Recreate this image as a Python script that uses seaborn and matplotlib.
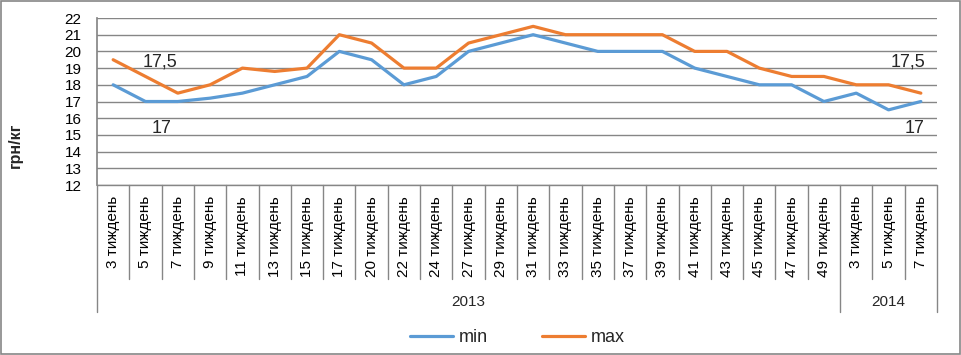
import numpy as np
import pandas as pd
import matplotlib
matplotlib.use("Agg")
import matplotlib.pyplot as plt
import matplotlib.transforms as mtransforms
from matplotlib.patches import Rectangle
import seaborn as sns

# weeks (2013 then 2014)
weeks_2013 = [3, 5, 7, 9, 11, 13, 15, 17, 20, 22, 24, 27, 29, 31, 33, 35, 37, 39, 41, 43, 45, 47, 49]
weeks_2014 = [3, 5, 7]
years = ["2013", "2014"]
week_labels = ["{} тиждень".format(w) for w in weeks_2013 + weeks_2014]

min_vals = [18, 17, 17, 17.2, 17.5, 18, 18.5, 20, 19.5, 18, 18.5, 20, 20.5, 21,
            20.5, 20, 20, 20, 19, 18.5, 18, 18, 17, 17.5, 16.5, 17]
max_vals = [19.5, 18.5, 17.5, 18, 19, 18.8, 19, 21, 20.5, 19, 19, 20.5, 21, 21.5,
            21, 21, 21, 21, 20, 20, 19, 18.5, 18.5, 18, 18, 17.5]
label_first = ["17,5", "17"]
label_last = ["17,5", "17"]

sns.set_theme(style="white")
plt.rcParams['font.family'] = ['Liberation Sans', 'DejaVu Sans']

n = len(week_labels)
pos = np.arange(n)
df = pd.DataFrame({'pos': np.concatenate([pos, pos]),
                   'value': min_vals + max_vals,
                   'series': ['min'] * n + ['max'] * n})

fig = plt.figure(figsize=(9.62, 3.55), dpi=100)
ax = fig.add_axes([97/962, 1-185/355, 840/962, 167/355])

colors = {'min': '#5B9BD5', 'max': '#ED7D31'}
sns.lineplot(data=df, x='pos', y='value', hue='series', palette=colors,
             linewidth=2.3, ax=ax, legend=False)

ax.set_xlim(-0.5, n - 0.5)
ax.set_ylim(12, 22)
ax.set_yticks(range(12, 23))
ax.yaxis.grid(True, color='#868686', linewidth=1)
ax.set_axisbelow(True)
ax.tick_params(axis='y', length=0, pad=11, labelsize=11, labelcolor='black')
ax.set_xticks(pos, week_labels, rotation=90, va='top', ha='center')
ax.tick_params(axis='x', length=0, pad=8, labelsize=11, labelcolor='black')
ax.set_xlabel('')
ax.set_ylabel('')
for s in ['top', 'right', 'bottom']:
    ax.spines[s].set_visible(False)
ax.spines['left'].set_color('#868686')
ax.spines['left'].set_bounds(12, 22)

# category separators below the axis
trans = mtransforms.blended_transform_factory(ax.transData, ax.transAxes)
ax.plot([-0.5, n - 0.5], [0, 0], color='#868686', lw=1, transform=trans, clip_on=False)
n13 = len(weeks_2013)
for i in range(n + 1):
    x = i - 0.5
    low = -0.76 if i in (0, n13, n) else -0.565
    ax.plot([x, x], [0, low], color='#868686', lw=1, transform=trans, clip_on=False)
ax.text((n13 - 1) / 2, -0.70, years[0], transform=trans, ha='center', va='center', fontsize=11)
ax.text(n13 + (len(weeks_2014) - 1) / 2, -0.70, years[1], transform=trans, ha='center', va='center', fontsize=11)

# data labels
ax.text(1.45, 19.35, label_first[0], ha='center', va='center', fontsize=13)
ax.text(1.5, 15.4, label_first[1], ha='center', va='center', fontsize=13)
ax.text(24.6, 19.35, label_last[0], ha='center', va='center', fontsize=13)
ax.text(24.8, 15.4, label_last[1], ha='center', va='center', fontsize=13)

# legend
handles = [plt.Line2D([], [], color=colors['min'], lw=2.3),
           plt.Line2D([], [], color=colors['max'], lw=2.3)]
ax.legend(handles, ['min', 'max'], loc='center', bbox_to_anchor=(0.5, -0.915),
          ncol=2, frameon=False, fontsize=13, handlelength=2.4,
          handletextpad=0.3, columnspacing=3.0)

fig.text(15/962, 1-145/355, 'грн/кг', rotation=90, ha='center', va='center',
         fontsize=11.5, fontweight='bold')

fig.patches.append(Rectangle((0.001, 0.002), 0.997, 0.995, transform=fig.transFigure,
                             fill=False, edgecolor='#868686', lw=1.2))

fig.savefig('out.png', dpi=100)
